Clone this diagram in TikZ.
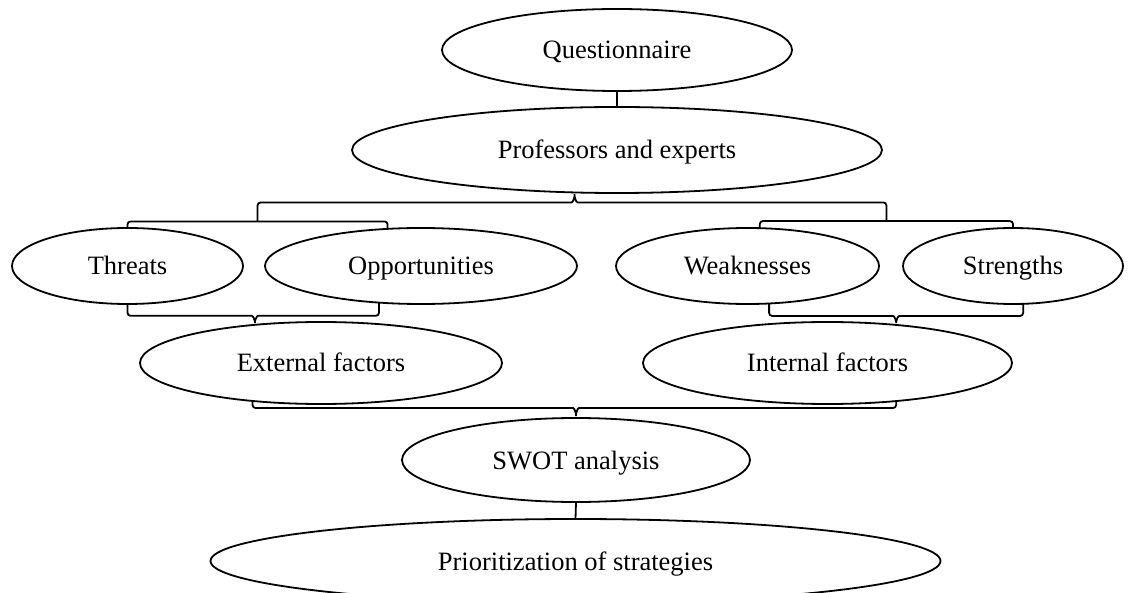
\documentclass[tikz,border=0pt]{standalone}
\usepackage{fontspec}
\setmainfont{Liberation Serif}
\usetikzlibrary{shapes.geometric}
\usetikzlibrary{calc}

\begin{document}
\begin{tikzpicture}[x=1pt,y=1pt,line width=1.8pt,
    item/.style={draw, ellipse, inner sep=0pt, outer sep=0pt, text height=18pt, text depth=0pt,
        font=\fontsize{26.5}{30}\selectfont},
    brace/.style={rounded corners=3pt}]
            \useasboundingbox (0,0) rectangle (1134,592);

            \node[item, minimum width=350, minimum height=82] (quest) at (617,542) {Questionnaire};
            \node[item, minimum width=530, minimum height=86] (prof) at (617,442) {Professors and experts};

            \node[item, minimum width=231, minimum height=76] (threat) at (127.5,326) {Threats};
            \node[item, minimum width=312, minimum height=76] (opp) at (421,326) {Opportunities};
            \node[item, minimum width=263, minimum height=76] (weak) at (747.5,326) {Weaknesses};
            \node[item, minimum width=220, minimum height=76] (strength) at (1013,326) {Strengths};

            \node[item, minimum width=362, minimum height=82] (ext) at (321,229) {External factors};
            \node[item, minimum width=369, minimum height=82] (int) at (827.5,229) {Internal factors};

            \node[item, minimum width=348, minimum height=84] (swot) at (576,132) {SWOT analysis};
            \node[item, minimum width=730, minimum height=84] (prio) at (575.5,31) {Prioritization of strategies};

            \draw (quest.south) -- (prof.north);
            \draw (swot.south) -- (prio.north);

            % braces above the four factors
            \coordinate (ttop) at ($(threat.north)!0.5!(opp.132)+(0,7)$);
            \coordinate (wtop) at ($(weak.72)!0.5!(strength.north)+(0,7)$);
            \draw[brace] (threat.north) |- (ttop) -| (opp.132);
            \draw[brace] (weak.72) |- (wtop) -| (strength.north);
            \draw[brace] (ttop) |- ($(prof.225)+(-6,-10)$) to[out=0,in=-90] (prof.225)
                to[out=-90,in=180] ($(prof.225)+(6,-10)$) -| (wtop);

            % braces below the four factors
            \draw[brace] (threat.south) |- ($(ext.150)+(-6,9)$) to[out=0,in=90] (ext.150)
                to[out=90,in=180] ($(ext.150)+(6,9)$) -| (opp.221);
            \draw[brace] (weak.-60) |- ($(int.29)+(-6,9)$) to[out=0,in=90] (int.29)
                to[out=90,in=180] ($(int.29)+(6,9)$) -| (strength.-75);
            \draw[brace] (ext.209) |- ($(swot.north)+(-6,10)$) to[out=0,in=90] (swot.north)
                to[out=90,in=180] ($(swot.north)+(6,10)$) -| (int.-29);
        \end{tikzpicture}
\end{document}
